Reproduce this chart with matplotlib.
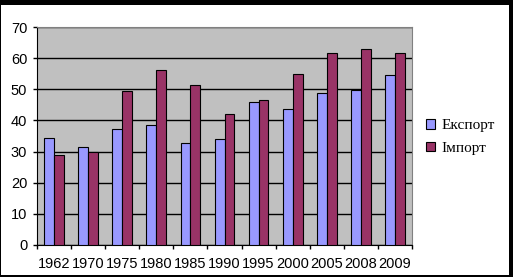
import matplotlib.pyplot as plt
import numpy as np
from matplotlib.patches import Rectangle

years = ['1962', '1970', '1975', '1980', '1985', '1990', '1995', '2000', '2005', '2008', '2009']
export = [34.3, 31.4, 37.1, 38.4, 32.7, 33.9, 45.8, 43.7, 48.7, 49.8, 54.5]
imprt = [28.8, 29.8, 49.4, 56.1, 51.3, 42.0, 46.6, 54.8, 61.6, 62.8, 61.6]

W, H = 513, 277
fig = plt.figure(figsize=(W / 100, H / 100), dpi=100, facecolor='black')
# white inner area, black frame around the picture
fig.add_artist(Rectangle((1 / W, 2 / H), 508 / W, 270 / H, transform=fig.transFigure,
                         facecolor='white', edgecolor='none', zorder=0))

ax = fig.add_axes([37 / W, 32 / H, 375 / W, 218 / H])
ax.set_facecolor('#C0C0C0')

x = np.arange(len(years))
w = 0.29
ax.bar(x - w / 2, export, w, color='#9999FF', edgecolor='black', linewidth=0.8,
       label='Експорт', zorder=3)
ax.bar(x + w / 2, imprt, w, color='#993366', edgecolor='black', linewidth=0.8,
       label='Імпорт', zorder=3)

ax.set_xlim(-0.5, len(years) - 0.5)
ax.set_ylim(0, 70)
ax.set_yticks(range(0, 71, 10))
ax.yaxis.grid(True, color='black', linewidth=1)
ax.set_axisbelow(True)

ax.set_xticks(x)
ax.set_xticklabels(years)
ax.set_xticks(np.arange(-0.5, len(years), 1), minor=True)
ax.tick_params(axis='x', which='major', length=0, pad=9)
ax.tick_params(axis='x', which='minor', length=3, width=1, color='black', direction='out')
ax.tick_params(axis='y', length=3, width=1, color='black', direction='out', pad=4)

for lab in ax.get_xticklabels() + ax.get_yticklabels():
    lab.set_fontfamily('Liberation Sans')
    lab.set_fontsize(10.5)

for s in ['top', 'right']:
    ax.spines[s].set_color('#808080')
for s in ['left', 'bottom']:
    ax.spines[s].set_color('black')

leg = fig.legend(loc='upper left', bbox_to_anchor=(420 / W, 1 - 113 / H),
                 frameon=False, prop={'family': 'Liberation Serif', 'size': 11},
                 handlelength=0.6, handleheight=0.6, handletextpad=0.4,
                 labelspacing=0.6, borderaxespad=0)

plt.savefig('out.png', dpi=100, facecolor='black')
